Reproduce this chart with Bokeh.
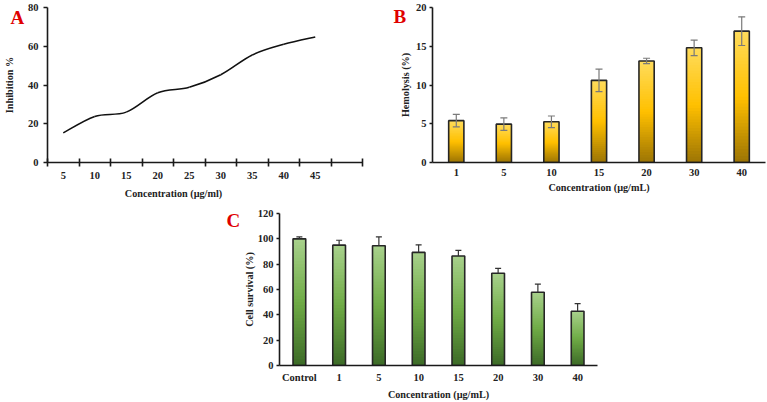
import numpy as np
from bokeh.plotting import figure
from bokeh.models import (Range1d, FactorRange, FixedTicker, Label, Whisker,
                          TeeHead, ColumnDataSource, Spacer, GridBox)
from bokeh.layouts import row, column
from bokeh.embed import file_html
from bokeh.resources import INLINE

# ---- Panel A: inhibition vs concentration ----
inh_conc = ["5", "10", "15", "20", "25", "30", "35", "40", "45"]
inh_vals = [15.3, 23.8, 26.0, 36.0, 38.8, 45.3, 55.5, 61.0, 64.8]

# ---- Panel B: hemolysis ----
hem_conc = ["1", "5", "10", "15", "20", "30", "40"]
hem_vals = [5.4, 4.95, 5.25, 10.6, 13.1, 14.8, 16.95]
hem_err = [0.8, 0.8, 0.75, 1.45, 0.35, 1.0, 1.85]

# ---- Panel C: cell survival ----
surv_conc = ["Control", "1", "5", "10", "15", "20", "30", "40"]
surv_vals = [100, 95.0, 94.5, 89.3, 86.5, 72.8, 57.8, 42.8]
surv_err = [1.5, 3.9, 7.0, 6.0, 4.4, 3.9, 6.5, 6.0]

FONT = "Liberation Serif"
RED = "#e00000"
AXIS = "#1a1a1a"
TXT = "#222222"
TITLE_SIZE = "10.2px"


def style_axes(p):
    for ax in (p.xaxis[0], p.yaxis[0]):
        ax.axis_line_color = AXIS
        ax.axis_line_width = 1.6
        ax.major_tick_line_color = AXIS
        ax.major_tick_line_width = 1.6
        ax.minor_tick_line_color = AXIS
        ax.minor_tick_line_width = 1.6
        ax.major_label_text_font = FONT
        ax.major_label_text_font_style = "bold"
        ax.major_label_text_font_size = "10.5px"
        ax.major_label_text_color = TXT
        ax.axis_label_text_font = FONT
        ax.axis_label_text_font_style = "bold"
        ax.axis_label_text_font_size = TITLE_SIZE
        ax.axis_label_text_color = TXT
    p.xgrid.visible = False
    p.ygrid.visible = False
    p.outline_line_color = None
    p.yaxis.major_tick_in = 0
    p.yaxis.major_tick_out = 4
    p.yaxis.minor_tick_in = 0
    p.yaxis.minor_tick_out = 0


def hex_rgb(h):
    h = h.lstrip("#")
    return np.array([int(h[i:i + 2], 16) for i in (0, 2, 4)], dtype=float)


def gradient_color(stops, t):
    # stops: (position, hex) pairs, t=0 at the bar foot and t=1 at its top
    for (p0, c0), (p1, c1) in zip(stops[:-1], stops[1:]):
        if p0 <= t <= p1:
            f = (t - p0) / (p1 - p0)
            c = hex_rgb(c0) * (1 - f) + hex_rgb(c1) * f
            return "#%02x%02x%02x" % tuple(int(round(v)) for v in c)
    return stops[-1][1]


def gradient_bars(p, cats, vals, stops, width, n=40):
    # each bar is filled with overlapping horizontal bands, then outlined
    xs, bots, tops, cols = [], [], [], []
    for c, v in zip(cats, vals):
        for k in range(n):
            xs.append(c)
            bots.append(v * k / n)
            tops.append(min(v, v * (k + 2.0) / n))
            cols.append(gradient_color(stops, (k + 0.5) / n))
    p.vbar(x=xs, bottom=bots, top=tops, width=width, fill_color=cols,
           line_color=None)
    p.vbar(x=cats, top=vals, bottom=0, width=width, fill_color=None,
           line_color="#262626", line_width=1.6)


# ================= Panel A =================
pa = figure(width=380, height=200, x_range=Range1d(0, 10), y_range=Range1d(0, 80),
            output_backend="svg", toolbar_location=None,
            min_border_left=47, min_border_right=18, min_border_top=7,
            min_border_bottom=37)
pa.yaxis.ticker = FixedTicker(ticks=[0, 20, 40, 60, 80])
centers = [i + 0.5 for i in range(len(inh_conc))]
pa.xaxis.ticker = FixedTicker(ticks=centers, minor_ticks=list(range(11)))
pa.xaxis.major_label_overrides = {c: lab for c, lab in zip(centers, inh_conc)}
style_axes(pa)
pa.xaxis.major_tick_in = 0
pa.xaxis.major_tick_out = 0
pa.xaxis.minor_tick_in = 4
pa.xaxis.minor_tick_out = 4
pa.xaxis.major_label_standoff = 5
pa.yaxis.axis_label = "Inhibition %"
pa.yaxis.axis_label_standoff = 10

# smoothed curve through the points (cubic Bezier segments, Catmull-Rom style)
px = np.array(centers)
py = np.array(inh_vals)
n = len(px)
x0, y0, x1, y1, cx0, cy0, cx1, cy1 = ([] for _ in range(8))
for i in range(n - 1):
    im1 = max(i - 1, 0)
    ip2 = min(i + 2, n - 1)
    x0.append(px[i]); y0.append(py[i])
    x1.append(px[i + 1]); y1.append(py[i + 1])
    cx0.append(px[i] + (px[i + 1] - px[im1]) / 6)
    cy0.append(py[i] + (py[i + 1] - py[im1]) / 6)
    cx1.append(px[i + 1] - (px[ip2] - px[i]) / 6)
    cy1.append(py[i + 1] - (py[ip2] - py[i]) / 6)
pa.bezier(x0=x0, y0=y0, x1=x1, y1=y1, cx0=cx0, cy0=cy0, cx1=cx1, cy1=cy1,
          line_color="#111111", line_width=1.6)

# ================= Panel B =================
pb = figure(width=387, height=200, x_range=FactorRange(*hem_conc, range_padding=0),
            y_range=Range1d(0, 20), output_backend="svg", toolbar_location=None,
            min_border_left=52, min_border_right=2, min_border_top=7,
            min_border_bottom=38)
pb.yaxis.ticker = FixedTicker(ticks=[0, 5, 10, 15, 20])
style_axes(pb)
pb.xaxis.major_tick_in = 0
pb.xaxis.major_tick_out = 0
pb.xaxis.major_label_standoff = 6
pb.yaxis.major_tick_out = 3
pb.yaxis.major_label_standoff = 3
pb.xaxis.axis_label = "Concentration (µg/mL)"
pb.xaxis.axis_label_standoff = 3
pb.yaxis.axis_label = "Hemolysis (%)"
pb.yaxis.axis_label_standoff = 2

gold = [(0.0, "#9c7404"), (0.5, "#ffc000"), (1.0, "#ffdc5c")]
gradient_bars(pb, hem_conc, hem_vals, gold, width=0.32)
src_b = ColumnDataSource(dict(
    x=hem_conc,
    lo=[v - e for v, e in zip(hem_vals, hem_err)],
    hi=[v + e for v, e in zip(hem_vals, hem_err)]))
pb.add_layout(Whisker(base="x", lower="lo", upper="hi", source=src_b,
                      line_color="#7a7a7a", line_width=1.2, level="annotation",
                      upper_head=TeeHead(size=7, line_color="#7a7a7a", line_width=1.2),
                      lower_head=TeeHead(size=7, line_color="#7a7a7a", line_width=1.2)))

# ================= Panel C =================
pc = figure(width=420, height=202, x_range=FactorRange(*surv_conc, range_padding=0),
            y_range=Range1d(0, 120), output_backend="svg", toolbar_location=None,
            min_border_left=79, min_border_right=23, min_border_top=13,
            min_border_bottom=34)
pc.yaxis.ticker = FixedTicker(ticks=[0, 20, 40, 60, 80, 100, 120])
style_axes(pc)
pc.xaxis.major_tick_in = 0
pc.xaxis.major_tick_out = 0
pc.xaxis.major_label_standoff = 6
pc.yaxis.major_tick_out = 3
pc.yaxis.major_label_standoff = 3
pc.xaxis.axis_label = "Concentration (µg/mL)"
pc.xaxis.axis_label_standoff = 3
pc.yaxis.axis_label = "Cell survival (%)"
pc.yaxis.axis_label_standoff = 0

green = [(0.0, "#3c6a27"), (0.5, "#6fab46"), (1.0, "#a8d18c")]
gradient_bars(pc, surv_conc, surv_vals, green, width=0.32)
src_c = ColumnDataSource(dict(
    x=surv_conc, lo=surv_vals,
    hi=[v + e for v, e in zip(surv_vals, surv_err)]))
pc.add_layout(Whisker(base="x", lower="lo", upper="hi", source=src_c,
                      line_color="#333333", line_width=1.2, level="annotation",
                      upper_head=TeeHead(size=6, line_color="#333333", line_width=1.2),
                      lower_head=None))

panels = column(row(pa, pb, spacing=0),
                row(Spacer(width=200, height=202), pc, spacing=0),
                spacing=0)

# ================= transparent text layer over the whole page =================
# x/y here are page pixels (y grows downward)
ov = figure(width=767, height=402, x_range=Range1d(0, 767), y_range=Range1d(402, 0),
            output_backend="svg", toolbar_location=None, x_axis_type=None,
            y_axis_type=None, min_border=0, background_fill_color=None,
            border_fill_color=None, outline_line_color=None)
ov.xgrid.visible = False
ov.ygrid.visible = False

panel_letters = [("A", 10, 17), ("B", 393, 16), ("C", 226, 220)]
for letter, lx, ly in panel_letters:
    ov.add_layout(Label(x=lx, y=ly, text=letter, text_font=FONT,
                        text_font_style="bold", text_font_size="19px",
                        text_color=RED, text_align="left",
                        text_baseline="middle"))
ov.add_layout(Label(x=173, y=193, text="Concentration (µg/ml)", text_font=FONT,
                    text_font_style="bold", text_font_size=TITLE_SIZE,
                    text_color=TXT, text_align="center", text_baseline="middle"))

page = GridBox(children=[(panels, 0, 0), (ov, 0, 0)])

with open("out.html", "w") as f:
    f.write(file_html(page, INLINE))
